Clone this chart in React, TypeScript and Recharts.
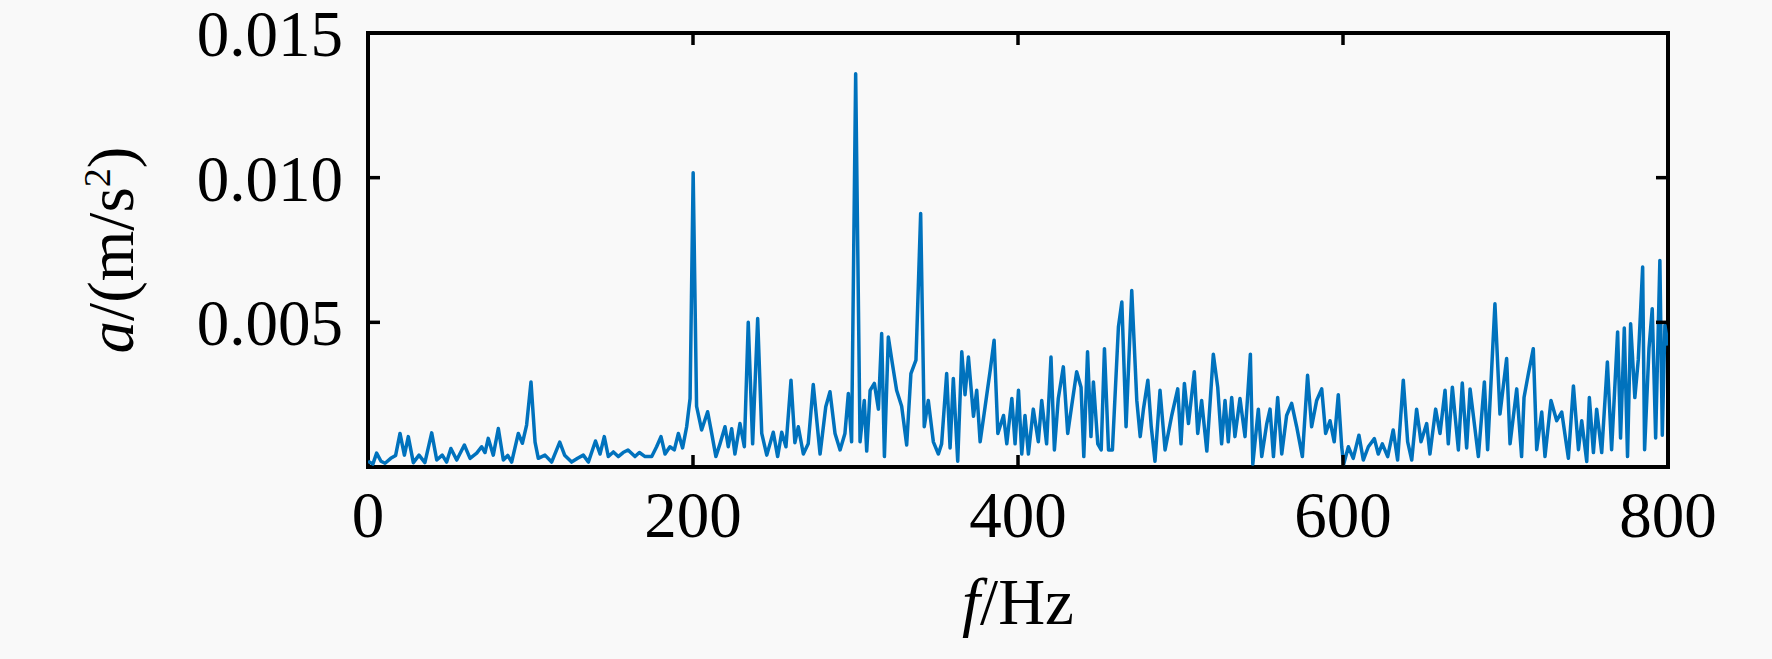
import React from 'react';
import { LineChart, Line, XAxis, YAxis, ReferenceArea } from 'recharts';

// Frequency (Hz) of each read-off point of the spectrum
const FREQ_HZ = [
  0, 3, 5.3, 8, 10.5, 14, 17, 19.7, 22.4, 24.8, 27.9, 31.4, 35, 39.2, 42.3, 45.7, 48.4, 51, 54.6, 59.3,
  62.8, 66.9, 69.9, 72, 74, 77.1, 80.2, 83.3, 86, 88.4, 92.5, 95, 97.6, 100.3, 102.8, 104.8, 108.9, 113, 118, 121,
  125.3, 129, 132.5, 135.6, 140, 142.8, 145.4, 147.9, 151, 154, 157, 160, 164.3, 167, 170.5, 174.6, 177.6, 180.3, 182.8, 185.8,
  188.5, 191, 193.6, 196.1, 198.2, 200.1, 202.2, 205.3, 209, 211.5, 214.1, 216.6, 219.7, 221.7, 223.8, 225.8, 228.9, 231.6, 234, 236.7,
  239.8, 242.3, 245.4, 249.4, 252.1, 254.6, 257.2, 260.3, 262.7, 264.8, 267.9, 270.9, 274, 278.2, 281.7, 284.3, 287.4, 290.5, 293.5, 295.6,
  297.6, 300.1, 302.8, 305.4, 306.9, 309, 311.6, 314.1, 316.1, 317.8, 320.2, 322.7, 325.3, 328.4, 331.5, 334.1, 337.2, 340.1, 342.3, 344.8,
  347.9, 351, 353, 356.1, 358.2, 360.2, 362.9, 365.4, 367.4, 369.5, 372.6, 374.6, 376.7, 379.8, 382.9, 385.3, 387.6, 391.1, 393.1, 396.2,
  398.2, 400.3, 402.3, 404.3, 406.4, 409.4, 412.5, 414.6, 417.6, 420.3, 422.4, 424.8, 427.9, 430.6, 433, 436.1, 438.8, 440.5, 442.8, 444.9,
  446.4, 449.1, 451.2, 453.2, 455.7, 458.1, 461.8, 463.9, 466.5, 470, 473.1, 475.2, 477.2, 479.9, 482, 484.3, 487.4, 490.5, 494.6, 498.3,
  500.3, 502.4, 504.9, 508.5, 510.6, 513, 516.2, 520.2, 522.9, 525.3, 527.4, 529.4, 531.5, 533.5, 536.6, 539.7, 543, 544.5, 547.9, 550,
  553.1, 555.1, 557.2, 559.8, 562.3, 565.3, 568.4, 571.5, 575, 578.2, 580.7, 583.8, 586.9, 589.3, 592, 594.6, 597.1, 599.2, 600.4, 603.3,
  606.3, 609.8, 612.5, 615.6, 619.3, 621.7, 624.2, 627.5, 630.9, 633.6, 637.1, 639.8, 642.3, 645.3, 648, 651.5, 653.5, 657, 659.7, 662.8,
  664.8, 667.3, 671, 673.4, 676.1, 678.2, 683.3, 687, 689, 693.5, 696.6, 700.7, 702.8, 706.9, 709.9, 711.4, 714.1, 717.1, 719.2, 722.3,
  724.3, 728, 731.5, 734.6, 738.7, 741.8, 744.9, 746.9, 750, 751.6, 754.1, 756.1, 759.2, 762.7, 765.3, 769, 770.8, 773.1, 775.1, 777,
  779.6, 781.7, 784.4, 785.6, 788.3, 790.3, 792.4, 795, 796.5, 798.1, 800,
];

// Acceleration amplitude a (m/s^2) at each frequency above
const ACCEL = [
  0.0002, 0.0001, 0.00048, 0.0002, 0.00013, 0.0003, 0.0004, 0.00116, 0.00041, 0.00105, 0.00015, 0.00041, 0.00015, 0.00118, 0.00024, 0.00041, 0.00017, 0.00064, 0.00024, 0.00076,
  0.0003, 0.00048, 0.0007, 0.0005, 0.00099, 0.00041, 0.00133, 0.00024, 0.0004, 0.00017, 0.00116, 0.00082, 0.00145, 0.00294, 0.00086, 0.0003, 0.00041, 0.00017, 0.00086, 0.00041,
  0.00017, 0.0003, 0.00041, 0.00017, 0.0009, 0.00045, 0.00105, 0.00036, 0.00052, 0.00036, 0.0005, 0.00059, 0.00036, 0.0005, 0.00036, 0.00036, 0.0007, 0.00105, 0.00045, 0.0007,
  0.00059, 0.00116, 0.00066, 0.00139, 0.00237, 0.01017, 0.0021, 0.00128, 0.00191, 0.00116, 0.00036, 0.0008, 0.00139, 0.0007, 0.00132, 0.00045, 0.0015, 0.0007, 0.005, 0.0008,
  0.00513, 0.00116, 0.00041, 0.0012, 0.00036, 0.0012, 0.0007, 0.003, 0.00084, 0.00139, 0.00045, 0.0008, 0.00285, 0.00045, 0.00208, 0.0026, 0.00116, 0.00059, 0.00116, 0.00254,
  0.00087, 0.01359, 0.00087, 0.0023, 0.00055, 0.00265, 0.00289, 0.002, 0.00461, 0.00036, 0.00449, 0.00357, 0.00265, 0.0021, 0.00076, 0.00323, 0.00369, 0.00876, 0.00139, 0.0023,
  0.00087, 0.00045, 0.0008, 0.00323, 0.00066, 0.00306, 0.0002, 0.00398, 0.0025, 0.0038, 0.00175, 0.00265, 0.00087, 0.0021, 0.00334, 0.00438, 0.00116, 0.00178, 0.0008, 0.00237,
  0.0008, 0.00265, 0.00045, 0.00178, 0.00045, 0.002, 0.00087, 0.0023, 0.0008, 0.0038, 0.00059, 0.00237, 0.00346, 0.00116, 0.0021, 0.00329, 0.00276, 0.00036, 0.00398, 0.00105,
  0.00294, 0.0008, 0.00059, 0.00409, 0.00059, 0.00059, 0.00484, 0.0057, 0.00139, 0.0061, 0.0023, 0.00105, 0.002, 0.003, 0.00139, 0.0002, 0.00265, 0.00059, 0.00178, 0.0027,
  0.0008, 0.00289, 0.0015, 0.00329, 0.00116, 0.0023, 0.00055, 0.0039, 0.00276, 0.0008, 0.0023, 0.00087, 0.0024, 0.00105, 0.00237, 0.00105, 0.0039, 0.0001, 0.002, 0.00036,
  0.0015, 0.002, 0.00036, 0.0024, 0.00045, 0.00178, 0.0022, 0.00139, 0.00036, 0.00317, 0.00139, 0.0023, 0.0027, 0.00116, 0.0016, 0.00087, 0.0025, 0.0007, 0.00009, 0.0007,
  0.0003, 0.0011, 0.00024, 0.0007, 0.00098, 0.00045, 0.0008, 0.00036, 0.00128, 0.00024, 0.003, 0.00087, 0.00024, 0.002, 0.00087, 0.0015, 0.00045, 0.002, 0.00116, 0.00265,
  0.0008, 0.00276, 0.00059, 0.0029, 0.00066, 0.0027, 0.00036, 0.00294, 0.0006, 0.00564, 0.00183, 0.00375, 0.0008, 0.0027, 0.00036, 0.0024, 0.00323, 0.00409, 0.0006, 0.0019,
  0.00036, 0.0023, 0.0016, 0.0019, 0.0003, 0.0028, 0.0006, 0.0016, 0.00019, 0.0024, 0.0005, 0.002, 0.0005, 0.00363, 0.0006, 0.00467, 0.001, 0.0048, 0.00036, 0.00495,
  0.0024, 0.0037, 0.00691, 0.0006, 0.0041, 0.00547, 0.001, 0.00714, 0.0011, 0.0049, 0.0042,
];

const X_TICKS = [0, 200, 400, 600, 800];
const Y_TICKS = [0.005, 0.01, 0.015];
const X_DOMAIN = [0, 800];
const Y_DOMAIN = [0, 0.015];

const data = FREQ_HZ.map((f, i) => ({ f, a: ACCEL[i] }));

// layout (pixels)
const W = 1772;
const H = 659;
const M_TOP = 33;
const M_RIGHT = 104;
const Y_AXIS_W = 368;
const X_AXIS_H = 192;
const PLOT_LEFT = Y_AXIS_W;
const PLOT_RIGHT = W - M_RIGHT;
const PLOT_TOP = M_TOP;
const PLOT_BOTTOM = H - X_AXIS_H;
const TICK_LEN = 12;

const FONT = '"Liberation Serif", "Times New Roman", Times, serif';
const FONT_SIZE = 65;

const XTick = (props: any) => {
  const { x, y, payload } = props;
  const v = payload.value;
  const inner = v > X_DOMAIN[0] && v < X_DOMAIN[1];
  return (
    <g>
      {inner && (
        <>
          <line x1={x} x2={x} y1={PLOT_BOTTOM} y2={PLOT_BOTTOM - TICK_LEN} stroke="#000" strokeWidth={3.5} />
          <line x1={x} x2={x} y1={PLOT_TOP} y2={PLOT_TOP + TICK_LEN} stroke="#000" strokeWidth={3.5} />
        </>
      )}
      <text x={x} y={y} dy="0.71em" textAnchor="middle" fontFamily={FONT} fontSize={FONT_SIZE} fill="#000">
        {String(v)}
      </text>
    </g>
  );
};

const YTick = (props: any) => {
  const { x, y, payload } = props;
  const v = payload.value;
  const inner = v > Y_DOMAIN[0] && v < Y_DOMAIN[1];
  return (
    <g>
      {inner && (
        <>
          <line x1={PLOT_LEFT} x2={PLOT_LEFT + TICK_LEN} y1={y} y2={y} stroke="#000" strokeWidth={3.5} />
          <line x1={PLOT_RIGHT} x2={PLOT_RIGHT - TICK_LEN} y1={y} y2={y} stroke="#000" strokeWidth={3.5} />
        </>
      )}
      <text x={x} y={y} dy="0.355em" textAnchor="end" fontFamily={FONT} fontSize={FONT_SIZE} fill="#000">
        {v.toFixed(3)}
      </text>
    </g>
  );
};

const renderYLabel = (props: any) => {
  const vb = props.viewBox || {};
  const cx = vb.x + 133;
  const cy = vb.y + vb.height / 2;
  return (
    <text
      x={cx}
      y={cy}
      transform={`rotate(-90, ${cx}, ${cy})`}
      textAnchor="middle"
      fontFamily={FONT}
      fontSize={FONT_SIZE}
      fill="#000"
    >
      <tspan fontStyle="italic">a</tspan>
      <tspan>/(m/s</tspan>
      <tspan fontSize={38} dy={-23}>2</tspan>
      <tspan dy={23}>)</tspan>
    </text>
  );
};

const renderXLabel = (props: any) => {
  const vb = props.viewBox || {};
  const cx = vb.x + vb.width / 2;
  const cy = vb.y + 157;
  return (
    <text x={cx} y={cy} textAnchor="middle" fontFamily={FONT} fontSize={FONT_SIZE} fill="#000">
      <tspan fontStyle="italic">f</tspan>
      <tspan>/Hz</tspan>
    </text>
  );
};

export default function App() {
  return (
    <div style={{ position: 'fixed', left: 0, top: 0, width: W, height: H, background: '#f9f9f9' }}>
      <LineChart width={W} height={H} data={data} margin={{ top: M_TOP, right: M_RIGHT, bottom: 0, left: 0 }}>
        <XAxis
          xAxisId="bottom"
          dataKey="f"
          type="number"
          domain={X_DOMAIN}
          ticks={X_TICKS}
          interval={0}
          allowDataOverflow
          height={X_AXIS_H}
          tickSize={0}
          tickMargin={24}
          tick={XTick}
          tickLine={false}
          axisLine={false}
          label={renderXLabel}
        />
        <YAxis
          yAxisId="left"
          type="number"
          domain={Y_DOMAIN}
          ticks={Y_TICKS}
          interval={0}
          allowDataOverflow
          width={Y_AXIS_W}
          tickSize={0}
          tickMargin={25}
          tick={YTick}
          tickLine={false}
          axisLine={false}
          label={renderYLabel}
        />
        <Line
          xAxisId="bottom"
          yAxisId="left"
          type="linear"
          dataKey="a"
          stroke="#0072BD"
          strokeWidth={3.5}
          strokeLinejoin="round"
          dot={false}
          activeDot={false}
          isAnimationActive={false}
        />
        <ReferenceArea
          xAxisId="bottom"
          yAxisId="left"
          x1={X_DOMAIN[0]}
          x2={X_DOMAIN[1]}
          y1={Y_DOMAIN[0]}
          y2={Y_DOMAIN[1]}
          fill="none"
          fillOpacity={0}
          stroke="#000"
          strokeWidth={4}
          strokeOpacity={1}
          ifOverflow="visible"
        />
      </LineChart>
    </div>
  );
}
